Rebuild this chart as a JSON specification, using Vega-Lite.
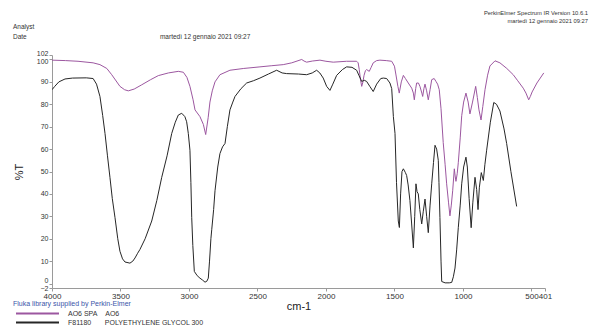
{
  "$schema": "https://vega.github.io/schema/vega-lite/v6.json",
  "width": 493,
  "height": 233,
  "autosize": "none",
  "padding": {"left": 52, "top": 55, "right": 45, "bottom": 39},
  "background": "white",
  "resolve": {"axis": {"x": "independent", "y": "independent"}},
  "config": {
    "view": {"stroke": null},
    "font": "Liberation Sans",
    "axis": {"grid": false, "labelOverlap": false, "domainColor": "#9a9a9a", "tickColor": "#9a9a9a", "labelColor": "#333", "labelFont": "Liberation Sans", "titleFont": "Liberation Sans", "titleFontWeight": "normal", "titleColor": "#222"}
  },
  "datasets": {
    "spectra": [
      {"spectrum": "AO6 SPA\u00a0\u00a0\u00a0\u00a0AO6", "wn": 4000, "T": 99.7},
      {"spectrum": "AO6 SPA\u00a0\u00a0\u00a0\u00a0AO6", "wn": 3900, "T": 99.5},
      {"spectrum": "AO6 SPA\u00a0\u00a0\u00a0\u00a0AO6", "wn": 3810, "T": 99.2},
      {"spectrum": "AO6 SPA\u00a0\u00a0\u00a0\u00a0AO6", "wn": 3700, "T": 98.5},
      {"spectrum": "AO6 SPA\u00a0\u00a0\u00a0\u00a0AO6", "wn": 3650, "T": 97.7},
      {"spectrum": "AO6 SPA\u00a0\u00a0\u00a0\u00a0AO6", "wn": 3600, "T": 96},
      {"spectrum": "AO6 SPA\u00a0\u00a0\u00a0\u00a0AO6", "wn": 3564, "T": 93.2},
      {"spectrum": "AO6 SPA\u00a0\u00a0\u00a0\u00a0AO6", "wn": 3504, "T": 88},
      {"spectrum": "AO6 SPA\u00a0\u00a0\u00a0\u00a0AO6", "wn": 3470, "T": 86.5},
      {"spectrum": "AO6 SPA\u00a0\u00a0\u00a0\u00a0AO6", "wn": 3443, "T": 86},
      {"spectrum": "AO6 SPA\u00a0\u00a0\u00a0\u00a0AO6", "wn": 3400, "T": 86.8},
      {"spectrum": "AO6 SPA\u00a0\u00a0\u00a0\u00a0AO6", "wn": 3345, "T": 88.7},
      {"spectrum": "AO6 SPA\u00a0\u00a0\u00a0\u00a0AO6", "wn": 3280, "T": 91},
      {"spectrum": "AO6 SPA\u00a0\u00a0\u00a0\u00a0AO6", "wn": 3224, "T": 92.8},
      {"spectrum": "AO6 SPA\u00a0\u00a0\u00a0\u00a0AO6", "wn": 3150, "T": 94},
      {"spectrum": "AO6 SPA\u00a0\u00a0\u00a0\u00a0AO6", "wn": 3078, "T": 94.7},
      {"spectrum": "AO6 SPA\u00a0\u00a0\u00a0\u00a0AO6", "wn": 3041, "T": 94.3},
      {"spectrum": "AO6 SPA\u00a0\u00a0\u00a0\u00a0AO6", "wn": 3015, "T": 92},
      {"spectrum": "AO6 SPA\u00a0\u00a0\u00a0\u00a0AO6", "wn": 2993, "T": 88},
      {"spectrum": "AO6 SPA\u00a0\u00a0\u00a0\u00a0AO6", "wn": 2970, "T": 82},
      {"spectrum": "AO6 SPA\u00a0\u00a0\u00a0\u00a0AO6", "wn": 2956, "T": 77.5},
      {"spectrum": "AO6 SPA\u00a0\u00a0\u00a0\u00a0AO6", "wn": 2920, "T": 74.5},
      {"spectrum": "AO6 SPA\u00a0\u00a0\u00a0\u00a0AO6", "wn": 2895, "T": 71},
      {"spectrum": "AO6 SPA\u00a0\u00a0\u00a0\u00a0AO6", "wn": 2878, "T": 66.5},
      {"spectrum": "AO6 SPA\u00a0\u00a0\u00a0\u00a0AO6", "wn": 2860, "T": 74},
      {"spectrum": "AO6 SPA\u00a0\u00a0\u00a0\u00a0AO6", "wn": 2847, "T": 81},
      {"spectrum": "AO6 SPA\u00a0\u00a0\u00a0\u00a0AO6", "wn": 2830, "T": 86},
      {"spectrum": "AO6 SPA\u00a0\u00a0\u00a0\u00a0AO6", "wn": 2810, "T": 90},
      {"spectrum": "AO6 SPA\u00a0\u00a0\u00a0\u00a0AO6", "wn": 2774, "T": 93.2},
      {"spectrum": "AO6 SPA\u00a0\u00a0\u00a0\u00a0AO6", "wn": 2701, "T": 95.2},
      {"spectrum": "AO6 SPA\u00a0\u00a0\u00a0\u00a0AO6", "wn": 2600, "T": 96},
      {"spectrum": "AO6 SPA\u00a0\u00a0\u00a0\u00a0AO6", "wn": 2482, "T": 96.7},
      {"spectrum": "AO6 SPA\u00a0\u00a0\u00a0\u00a0AO6", "wn": 2400, "T": 97.2},
      {"spectrum": "AO6 SPA\u00a0\u00a0\u00a0\u00a0AO6", "wn": 2312, "T": 97.7},
      {"spectrum": "AO6 SPA\u00a0\u00a0\u00a0\u00a0AO6", "wn": 2250, "T": 98.5},
      {"spectrum": "AO6 SPA\u00a0\u00a0\u00a0\u00a0AO6", "wn": 2177, "T": 100},
      {"spectrum": "AO6 SPA\u00a0\u00a0\u00a0\u00a0AO6", "wn": 2160, "T": 99.3},
      {"spectrum": "AO6 SPA\u00a0\u00a0\u00a0\u00a0AO6", "wn": 2141, "T": 98.8},
      {"spectrum": "AO6 SPA\u00a0\u00a0\u00a0\u00a0AO6", "wn": 2100, "T": 99.3},
      {"spectrum": "AO6 SPA\u00a0\u00a0\u00a0\u00a0AO6", "wn": 2044, "T": 99.7},
      {"spectrum": "AO6 SPA\u00a0\u00a0\u00a0\u00a0AO6", "wn": 2000, "T": 99.2},
      {"spectrum": "AO6 SPA\u00a0\u00a0\u00a0\u00a0AO6", "wn": 1947, "T": 98.8},
      {"spectrum": "AO6 SPA\u00a0\u00a0\u00a0\u00a0AO6", "wn": 1850, "T": 99.2},
      {"spectrum": "AO6 SPA\u00a0\u00a0\u00a0\u00a0AO6", "wn": 1776, "T": 99.2},
      {"spectrum": "AO6 SPA\u00a0\u00a0\u00a0\u00a0AO6", "wn": 1765, "T": 98.5},
      {"spectrum": "AO6 SPA\u00a0\u00a0\u00a0\u00a0AO6", "wn": 1757, "T": 95.5},
      {"spectrum": "AO6 SPA\u00a0\u00a0\u00a0\u00a0AO6", "wn": 1748, "T": 91},
      {"spectrum": "AO6 SPA\u00a0\u00a0\u00a0\u00a0AO6", "wn": 1739, "T": 88},
      {"spectrum": "AO6 SPA\u00a0\u00a0\u00a0\u00a0AO6", "wn": 1730, "T": 90},
      {"spectrum": "AO6 SPA\u00a0\u00a0\u00a0\u00a0AO6", "wn": 1722, "T": 92.9},
      {"spectrum": "AO6 SPA\u00a0\u00a0\u00a0\u00a0AO6", "wn": 1712, "T": 95},
      {"spectrum": "AO6 SPA\u00a0\u00a0\u00a0\u00a0AO6", "wn": 1703, "T": 95.5},
      {"spectrum": "AO6 SPA\u00a0\u00a0\u00a0\u00a0AO6", "wn": 1684, "T": 94.7},
      {"spectrum": "AO6 SPA\u00a0\u00a0\u00a0\u00a0AO6", "wn": 1670, "T": 96.5},
      {"spectrum": "AO6 SPA\u00a0\u00a0\u00a0\u00a0AO6", "wn": 1655, "T": 98.5},
      {"spectrum": "AO6 SPA\u00a0\u00a0\u00a0\u00a0AO6", "wn": 1630, "T": 99.5},
      {"spectrum": "AO6 SPA\u00a0\u00a0\u00a0\u00a0AO6", "wn": 1606, "T": 99.7},
      {"spectrum": "AO6 SPA\u00a0\u00a0\u00a0\u00a0AO6", "wn": 1560, "T": 99.5},
      {"spectrum": "AO6 SPA\u00a0\u00a0\u00a0\u00a0AO6", "wn": 1520, "T": 99.2},
      {"spectrum": "AO6 SPA\u00a0\u00a0\u00a0\u00a0AO6", "wn": 1500, "T": 97},
      {"spectrum": "AO6 SPA\u00a0\u00a0\u00a0\u00a0AO6", "wn": 1490, "T": 93.5},
      {"spectrum": "AO6 SPA\u00a0\u00a0\u00a0\u00a0AO6", "wn": 1475, "T": 88},
      {"spectrum": "AO6 SPA\u00a0\u00a0\u00a0\u00a0AO6", "wn": 1465, "T": 85},
      {"spectrum": "AO6 SPA\u00a0\u00a0\u00a0\u00a0AO6", "wn": 1450, "T": 90},
      {"spectrum": "AO6 SPA\u00a0\u00a0\u00a0\u00a0AO6", "wn": 1435, "T": 92.9},
      {"spectrum": "AO6 SPA\u00a0\u00a0\u00a0\u00a0AO6", "wn": 1420, "T": 91.5},
      {"spectrum": "AO6 SPA\u00a0\u00a0\u00a0\u00a0AO6", "wn": 1399, "T": 89.5},
      {"spectrum": "AO6 SPA\u00a0\u00a0\u00a0\u00a0AO6", "wn": 1374, "T": 87.2},
      {"spectrum": "AO6 SPA\u00a0\u00a0\u00a0\u00a0AO6", "wn": 1362, "T": 85},
      {"spectrum": "AO6 SPA\u00a0\u00a0\u00a0\u00a0AO6", "wn": 1355, "T": 82},
      {"spectrum": "AO6 SPA\u00a0\u00a0\u00a0\u00a0AO6", "wn": 1345, "T": 87},
      {"spectrum": "AO6 SPA\u00a0\u00a0\u00a0\u00a0AO6", "wn": 1338, "T": 89.5},
      {"spectrum": "AO6 SPA\u00a0\u00a0\u00a0\u00a0AO6", "wn": 1325, "T": 89.5},
      {"spectrum": "AO6 SPA\u00a0\u00a0\u00a0\u00a0AO6", "wn": 1314, "T": 88},
      {"spectrum": "AO6 SPA\u00a0\u00a0\u00a0\u00a0AO6", "wn": 1300, "T": 85},
      {"spectrum": "AO6 SPA\u00a0\u00a0\u00a0\u00a0AO6", "wn": 1294, "T": 83.5},
      {"spectrum": "AO6 SPA\u00a0\u00a0\u00a0\u00a0AO6", "wn": 1285, "T": 87},
      {"spectrum": "AO6 SPA\u00a0\u00a0\u00a0\u00a0AO6", "wn": 1277, "T": 89},
      {"spectrum": "AO6 SPA\u00a0\u00a0\u00a0\u00a0AO6", "wn": 1265, "T": 86},
      {"spectrum": "AO6 SPA\u00a0\u00a0\u00a0\u00a0AO6", "wn": 1253, "T": 82},
      {"spectrum": "AO6 SPA\u00a0\u00a0\u00a0\u00a0AO6", "wn": 1240, "T": 86.5},
      {"spectrum": "AO6 SPA\u00a0\u00a0\u00a0\u00a0AO6", "wn": 1228, "T": 91},
      {"spectrum": "AO6 SPA\u00a0\u00a0\u00a0\u00a0AO6", "wn": 1210, "T": 91.5},
      {"spectrum": "AO6 SPA\u00a0\u00a0\u00a0\u00a0AO6", "wn": 1197, "T": 90.2},
      {"spectrum": "AO6 SPA\u00a0\u00a0\u00a0\u00a0AO6", "wn": 1185, "T": 89},
      {"spectrum": "AO6 SPA\u00a0\u00a0\u00a0\u00a0AO6", "wn": 1173, "T": 86.5},
      {"spectrum": "AO6 SPA\u00a0\u00a0\u00a0\u00a0AO6", "wn": 1160, "T": 78},
      {"spectrum": "AO6 SPA\u00a0\u00a0\u00a0\u00a0AO6", "wn": 1144, "T": 62.9},
      {"spectrum": "AO6 SPA\u00a0\u00a0\u00a0\u00a0AO6", "wn": 1130, "T": 53},
      {"spectrum": "AO6 SPA\u00a0\u00a0\u00a0\u00a0AO6", "wn": 1119, "T": 44.5},
      {"spectrum": "AO6 SPA\u00a0\u00a0\u00a0\u00a0AO6", "wn": 1105, "T": 36},
      {"spectrum": "AO6 SPA\u00a0\u00a0\u00a0\u00a0AO6", "wn": 1095, "T": 30.2},
      {"spectrum": "AO6 SPA\u00a0\u00a0\u00a0\u00a0AO6", "wn": 1085, "T": 35},
      {"spectrum": "AO6 SPA\u00a0\u00a0\u00a0\u00a0AO6", "wn": 1075, "T": 41.4},
      {"spectrum": "AO6 SPA\u00a0\u00a0\u00a0\u00a0AO6", "wn": 1063, "T": 51.2},
      {"spectrum": "AO6 SPA\u00a0\u00a0\u00a0\u00a0AO6", "wn": 1057, "T": 48},
      {"spectrum": "AO6 SPA\u00a0\u00a0\u00a0\u00a0AO6", "wn": 1051, "T": 45.6},
      {"spectrum": "AO6 SPA\u00a0\u00a0\u00a0\u00a0AO6", "wn": 1042, "T": 49},
      {"spectrum": "AO6 SPA\u00a0\u00a0\u00a0\u00a0AO6", "wn": 1034, "T": 53.9},
      {"spectrum": "AO6 SPA\u00a0\u00a0\u00a0\u00a0AO6", "wn": 1020, "T": 65},
      {"spectrum": "AO6 SPA\u00a0\u00a0\u00a0\u00a0AO6", "wn": 1009, "T": 74.9},
      {"spectrum": "AO6 SPA\u00a0\u00a0\u00a0\u00a0AO6", "wn": 995, "T": 81},
      {"spectrum": "AO6 SPA\u00a0\u00a0\u00a0\u00a0AO6", "wn": 978, "T": 85},
      {"spectrum": "AO6 SPA\u00a0\u00a0\u00a0\u00a0AO6", "wn": 962, "T": 81},
      {"spectrum": "AO6 SPA\u00a0\u00a0\u00a0\u00a0AO6", "wn": 949, "T": 75.7},
      {"spectrum": "AO6 SPA\u00a0\u00a0\u00a0\u00a0AO6", "wn": 930, "T": 81},
      {"spectrum": "AO6 SPA\u00a0\u00a0\u00a0\u00a0AO6", "wn": 907, "T": 88},
      {"spectrum": "AO6 SPA\u00a0\u00a0\u00a0\u00a0AO6", "wn": 895, "T": 83},
      {"spectrum": "AO6 SPA\u00a0\u00a0\u00a0\u00a0AO6", "wn": 883, "T": 77.5},
      {"spectrum": "AO6 SPA\u00a0\u00a0\u00a0\u00a0AO6", "wn": 868, "T": 73},
      {"spectrum": "AO6 SPA\u00a0\u00a0\u00a0\u00a0AO6", "wn": 855, "T": 79},
      {"spectrum": "AO6 SPA\u00a0\u00a0\u00a0\u00a0AO6", "wn": 839, "T": 86.5},
      {"spectrum": "AO6 SPA\u00a0\u00a0\u00a0\u00a0AO6", "wn": 820, "T": 93},
      {"spectrum": "AO6 SPA\u00a0\u00a0\u00a0\u00a0AO6", "wn": 803, "T": 97.1},
      {"spectrum": "AO6 SPA\u00a0\u00a0\u00a0\u00a0AO6", "wn": 766, "T": 99.4},
      {"spectrum": "AO6 SPA\u00a0\u00a0\u00a0\u00a0AO6", "wn": 730, "T": 98.5},
      {"spectrum": "AO6 SPA\u00a0\u00a0\u00a0\u00a0AO6", "wn": 680, "T": 96},
      {"spectrum": "AO6 SPA\u00a0\u00a0\u00a0\u00a0AO6", "wn": 633, "T": 93.2},
      {"spectrum": "AO6 SPA\u00a0\u00a0\u00a0\u00a0AO6", "wn": 600, "T": 90.5},
      {"spectrum": "AO6 SPA\u00a0\u00a0\u00a0\u00a0AO6", "wn": 560, "T": 87.2},
      {"spectrum": "AO6 SPA\u00a0\u00a0\u00a0\u00a0AO6", "wn": 540, "T": 85},
      {"spectrum": "AO6 SPA\u00a0\u00a0\u00a0\u00a0AO6", "wn": 520, "T": 82},
      {"spectrum": "AO6 SPA\u00a0\u00a0\u00a0\u00a0AO6", "wn": 508, "T": 83.5},
      {"spectrum": "AO6 SPA\u00a0\u00a0\u00a0\u00a0AO6", "wn": 495, "T": 85.5},
      {"spectrum": "AO6 SPA\u00a0\u00a0\u00a0\u00a0AO6", "wn": 460, "T": 89.5},
      {"spectrum": "AO6 SPA\u00a0\u00a0\u00a0\u00a0AO6", "wn": 410, "T": 94},
      {"spectrum": "F81180\u00a0\u00a0\u00a0\u00a0\u00a0\u00a0\u00a0POLYETHYLENE GLYCOL 300", "wn": 4000, "T": 86.5},
      {"spectrum": "F81180\u00a0\u00a0\u00a0\u00a0\u00a0\u00a0\u00a0POLYETHYLENE GLYCOL 300", "wn": 3980, "T": 88},
      {"spectrum": "F81180\u00a0\u00a0\u00a0\u00a0\u00a0\u00a0\u00a0POLYETHYLENE GLYCOL 300", "wn": 3950, "T": 90},
      {"spectrum": "F81180\u00a0\u00a0\u00a0\u00a0\u00a0\u00a0\u00a0POLYETHYLENE GLYCOL 300", "wn": 3905, "T": 91.3},
      {"spectrum": "F81180\u00a0\u00a0\u00a0\u00a0\u00a0\u00a0\u00a0POLYETHYLENE GLYCOL 300", "wn": 3850, "T": 91.7},
      {"spectrum": "F81180\u00a0\u00a0\u00a0\u00a0\u00a0\u00a0\u00a0POLYETHYLENE GLYCOL 300", "wn": 3750, "T": 91.8},
      {"spectrum": "F81180\u00a0\u00a0\u00a0\u00a0\u00a0\u00a0\u00a0POLYETHYLENE GLYCOL 300", "wn": 3700, "T": 91.5},
      {"spectrum": "F81180\u00a0\u00a0\u00a0\u00a0\u00a0\u00a0\u00a0POLYETHYLENE GLYCOL 300", "wn": 3675, "T": 89},
      {"spectrum": "F81180\u00a0\u00a0\u00a0\u00a0\u00a0\u00a0\u00a0POLYETHYLENE GLYCOL 300", "wn": 3650, "T": 83.5},
      {"spectrum": "F81180\u00a0\u00a0\u00a0\u00a0\u00a0\u00a0\u00a0POLYETHYLENE GLYCOL 300", "wn": 3630, "T": 75},
      {"spectrum": "F81180\u00a0\u00a0\u00a0\u00a0\u00a0\u00a0\u00a0POLYETHYLENE GLYCOL 300", "wn": 3613, "T": 67},
      {"spectrum": "F81180\u00a0\u00a0\u00a0\u00a0\u00a0\u00a0\u00a0POLYETHYLENE GLYCOL 300", "wn": 3595, "T": 57},
      {"spectrum": "F81180\u00a0\u00a0\u00a0\u00a0\u00a0\u00a0\u00a0POLYETHYLENE GLYCOL 300", "wn": 3577, "T": 47.4},
      {"spectrum": "F81180\u00a0\u00a0\u00a0\u00a0\u00a0\u00a0\u00a0POLYETHYLENE GLYCOL 300", "wn": 3560, "T": 38},
      {"spectrum": "F81180\u00a0\u00a0\u00a0\u00a0\u00a0\u00a0\u00a0POLYETHYLENE GLYCOL 300", "wn": 3540, "T": 29.4},
      {"spectrum": "F81180\u00a0\u00a0\u00a0\u00a0\u00a0\u00a0\u00a0POLYETHYLENE GLYCOL 300", "wn": 3520, "T": 20},
      {"spectrum": "F81180\u00a0\u00a0\u00a0\u00a0\u00a0\u00a0\u00a0POLYETHYLENE GLYCOL 300", "wn": 3504, "T": 14.4},
      {"spectrum": "F81180\u00a0\u00a0\u00a0\u00a0\u00a0\u00a0\u00a0POLYETHYLENE GLYCOL 300", "wn": 3485, "T": 11},
      {"spectrum": "F81180\u00a0\u00a0\u00a0\u00a0\u00a0\u00a0\u00a0POLYETHYLENE GLYCOL 300", "wn": 3467, "T": 9.6},
      {"spectrum": "F81180\u00a0\u00a0\u00a0\u00a0\u00a0\u00a0\u00a0POLYETHYLENE GLYCOL 300", "wn": 3431, "T": 9.1},
      {"spectrum": "F81180\u00a0\u00a0\u00a0\u00a0\u00a0\u00a0\u00a0POLYETHYLENE GLYCOL 300", "wn": 3410, "T": 10},
      {"spectrum": "F81180\u00a0\u00a0\u00a0\u00a0\u00a0\u00a0\u00a0POLYETHYLENE GLYCOL 300", "wn": 3394, "T": 11.4},
      {"spectrum": "F81180\u00a0\u00a0\u00a0\u00a0\u00a0\u00a0\u00a0POLYETHYLENE GLYCOL 300", "wn": 3375, "T": 13.5},
      {"spectrum": "F81180\u00a0\u00a0\u00a0\u00a0\u00a0\u00a0\u00a0POLYETHYLENE GLYCOL 300", "wn": 3358, "T": 15.2},
      {"spectrum": "F81180\u00a0\u00a0\u00a0\u00a0\u00a0\u00a0\u00a0POLYETHYLENE GLYCOL 300", "wn": 3320, "T": 20},
      {"spectrum": "F81180\u00a0\u00a0\u00a0\u00a0\u00a0\u00a0\u00a0POLYETHYLENE GLYCOL 300", "wn": 3272, "T": 27.9},
      {"spectrum": "F81180\u00a0\u00a0\u00a0\u00a0\u00a0\u00a0\u00a0POLYETHYLENE GLYCOL 300", "wn": 3235, "T": 37},
      {"spectrum": "F81180\u00a0\u00a0\u00a0\u00a0\u00a0\u00a0\u00a0POLYETHYLENE GLYCOL 300", "wn": 3199, "T": 47.4},
      {"spectrum": "F81180\u00a0\u00a0\u00a0\u00a0\u00a0\u00a0\u00a0POLYETHYLENE GLYCOL 300", "wn": 3160, "T": 57},
      {"spectrum": "F81180\u00a0\u00a0\u00a0\u00a0\u00a0\u00a0\u00a0POLYETHYLENE GLYCOL 300", "wn": 3126, "T": 67},
      {"spectrum": "F81180\u00a0\u00a0\u00a0\u00a0\u00a0\u00a0\u00a0POLYETHYLENE GLYCOL 300", "wn": 3100, "T": 72},
      {"spectrum": "F81180\u00a0\u00a0\u00a0\u00a0\u00a0\u00a0\u00a0POLYETHYLENE GLYCOL 300", "wn": 3078, "T": 75.2},
      {"spectrum": "F81180\u00a0\u00a0\u00a0\u00a0\u00a0\u00a0\u00a0POLYETHYLENE GLYCOL 300", "wn": 3053, "T": 76},
      {"spectrum": "F81180\u00a0\u00a0\u00a0\u00a0\u00a0\u00a0\u00a0POLYETHYLENE GLYCOL 300", "wn": 3030, "T": 74.5},
      {"spectrum": "F81180\u00a0\u00a0\u00a0\u00a0\u00a0\u00a0\u00a0POLYETHYLENE GLYCOL 300", "wn": 3017, "T": 72.2},
      {"spectrum": "F81180\u00a0\u00a0\u00a0\u00a0\u00a0\u00a0\u00a0POLYETHYLENE GLYCOL 300", "wn": 3005, "T": 67},
      {"spectrum": "F81180\u00a0\u00a0\u00a0\u00a0\u00a0\u00a0\u00a0POLYETHYLENE GLYCOL 300", "wn": 2993, "T": 59.5},
      {"spectrum": "F81180\u00a0\u00a0\u00a0\u00a0\u00a0\u00a0\u00a0POLYETHYLENE GLYCOL 300", "wn": 2986, "T": 45},
      {"spectrum": "F81180\u00a0\u00a0\u00a0\u00a0\u00a0\u00a0\u00a0POLYETHYLENE GLYCOL 300", "wn": 2980, "T": 29.4},
      {"spectrum": "F81180\u00a0\u00a0\u00a0\u00a0\u00a0\u00a0\u00a0POLYETHYLENE GLYCOL 300", "wn": 2972, "T": 17},
      {"spectrum": "F81180\u00a0\u00a0\u00a0\u00a0\u00a0\u00a0\u00a0POLYETHYLENE GLYCOL 300", "wn": 2961, "T": 5.4},
      {"spectrum": "F81180\u00a0\u00a0\u00a0\u00a0\u00a0\u00a0\u00a0POLYETHYLENE GLYCOL 300", "wn": 2940, "T": 3.5},
      {"spectrum": "F81180\u00a0\u00a0\u00a0\u00a0\u00a0\u00a0\u00a0POLYETHYLENE GLYCOL 300", "wn": 2920, "T": 2.4},
      {"spectrum": "F81180\u00a0\u00a0\u00a0\u00a0\u00a0\u00a0\u00a0POLYETHYLENE GLYCOL 300", "wn": 2900, "T": 1.5},
      {"spectrum": "F81180\u00a0\u00a0\u00a0\u00a0\u00a0\u00a0\u00a0POLYETHYLENE GLYCOL 300", "wn": 2883, "T": 0.6},
      {"spectrum": "F81180\u00a0\u00a0\u00a0\u00a0\u00a0\u00a0\u00a0POLYETHYLENE GLYCOL 300", "wn": 2870, "T": 1},
      {"spectrum": "F81180\u00a0\u00a0\u00a0\u00a0\u00a0\u00a0\u00a0POLYETHYLENE GLYCOL 300", "wn": 2859, "T": 2.4},
      {"spectrum": "F81180\u00a0\u00a0\u00a0\u00a0\u00a0\u00a0\u00a0POLYETHYLENE GLYCOL 300", "wn": 2850, "T": 10},
      {"spectrum": "F81180\u00a0\u00a0\u00a0\u00a0\u00a0\u00a0\u00a0POLYETHYLENE GLYCOL 300", "wn": 2840, "T": 20},
      {"spectrum": "F81180\u00a0\u00a0\u00a0\u00a0\u00a0\u00a0\u00a0POLYETHYLENE GLYCOL 300", "wn": 2834, "T": 24},
      {"spectrum": "F81180\u00a0\u00a0\u00a0\u00a0\u00a0\u00a0\u00a0POLYETHYLENE GLYCOL 300", "wn": 2820, "T": 33},
      {"spectrum": "F81180\u00a0\u00a0\u00a0\u00a0\u00a0\u00a0\u00a0POLYETHYLENE GLYCOL 300", "wn": 2810, "T": 41.4},
      {"spectrum": "F81180\u00a0\u00a0\u00a0\u00a0\u00a0\u00a0\u00a0POLYETHYLENE GLYCOL 300", "wn": 2790, "T": 52},
      {"spectrum": "F81180\u00a0\u00a0\u00a0\u00a0\u00a0\u00a0\u00a0POLYETHYLENE GLYCOL 300", "wn": 2774, "T": 58},
      {"spectrum": "F81180\u00a0\u00a0\u00a0\u00a0\u00a0\u00a0\u00a0POLYETHYLENE GLYCOL 300", "wn": 2755, "T": 61},
      {"spectrum": "F81180\u00a0\u00a0\u00a0\u00a0\u00a0\u00a0\u00a0POLYETHYLENE GLYCOL 300", "wn": 2737, "T": 62.5},
      {"spectrum": "F81180\u00a0\u00a0\u00a0\u00a0\u00a0\u00a0\u00a0POLYETHYLENE GLYCOL 300", "wn": 2720, "T": 70},
      {"spectrum": "F81180\u00a0\u00a0\u00a0\u00a0\u00a0\u00a0\u00a0POLYETHYLENE GLYCOL 300", "wn": 2701, "T": 77.5},
      {"spectrum": "F81180\u00a0\u00a0\u00a0\u00a0\u00a0\u00a0\u00a0POLYETHYLENE GLYCOL 300", "wn": 2680, "T": 81},
      {"spectrum": "F81180\u00a0\u00a0\u00a0\u00a0\u00a0\u00a0\u00a0POLYETHYLENE GLYCOL 300", "wn": 2664, "T": 83.5},
      {"spectrum": "F81180\u00a0\u00a0\u00a0\u00a0\u00a0\u00a0\u00a0POLYETHYLENE GLYCOL 300", "wn": 2620, "T": 87},
      {"spectrum": "F81180\u00a0\u00a0\u00a0\u00a0\u00a0\u00a0\u00a0POLYETHYLENE GLYCOL 300", "wn": 2579, "T": 89.5},
      {"spectrum": "F81180\u00a0\u00a0\u00a0\u00a0\u00a0\u00a0\u00a0POLYETHYLENE GLYCOL 300", "wn": 2530, "T": 90.5},
      {"spectrum": "F81180\u00a0\u00a0\u00a0\u00a0\u00a0\u00a0\u00a0POLYETHYLENE GLYCOL 300", "wn": 2482, "T": 91.7},
      {"spectrum": "F81180\u00a0\u00a0\u00a0\u00a0\u00a0\u00a0\u00a0POLYETHYLENE GLYCOL 300", "wn": 2420, "T": 93.5},
      {"spectrum": "F81180\u00a0\u00a0\u00a0\u00a0\u00a0\u00a0\u00a0POLYETHYLENE GLYCOL 300", "wn": 2360, "T": 95.2},
      {"spectrum": "F81180\u00a0\u00a0\u00a0\u00a0\u00a0\u00a0\u00a0POLYETHYLENE GLYCOL 300", "wn": 2320, "T": 94},
      {"spectrum": "F81180\u00a0\u00a0\u00a0\u00a0\u00a0\u00a0\u00a0POLYETHYLENE GLYCOL 300", "wn": 2287, "T": 93.7},
      {"spectrum": "F81180\u00a0\u00a0\u00a0\u00a0\u00a0\u00a0\u00a0POLYETHYLENE GLYCOL 300", "wn": 2200, "T": 93.5},
      {"spectrum": "F81180\u00a0\u00a0\u00a0\u00a0\u00a0\u00a0\u00a0POLYETHYLENE GLYCOL 300", "wn": 2141, "T": 93.2},
      {"spectrum": "F81180\u00a0\u00a0\u00a0\u00a0\u00a0\u00a0\u00a0POLYETHYLENE GLYCOL 300", "wn": 2100, "T": 94},
      {"spectrum": "F81180\u00a0\u00a0\u00a0\u00a0\u00a0\u00a0\u00a0POLYETHYLENE GLYCOL 300", "wn": 2068, "T": 95.2},
      {"spectrum": "F81180\u00a0\u00a0\u00a0\u00a0\u00a0\u00a0\u00a0POLYETHYLENE GLYCOL 300", "wn": 2045, "T": 94},
      {"spectrum": "F81180\u00a0\u00a0\u00a0\u00a0\u00a0\u00a0\u00a0POLYETHYLENE GLYCOL 300", "wn": 2020, "T": 91.7},
      {"spectrum": "F81180\u00a0\u00a0\u00a0\u00a0\u00a0\u00a0\u00a0POLYETHYLENE GLYCOL 300", "wn": 1995, "T": 88},
      {"spectrum": "F81180\u00a0\u00a0\u00a0\u00a0\u00a0\u00a0\u00a0POLYETHYLENE GLYCOL 300", "wn": 1971, "T": 86.2},
      {"spectrum": "F81180\u00a0\u00a0\u00a0\u00a0\u00a0\u00a0\u00a0POLYETHYLENE GLYCOL 300", "wn": 1950, "T": 89},
      {"spectrum": "F81180\u00a0\u00a0\u00a0\u00a0\u00a0\u00a0\u00a0POLYETHYLENE GLYCOL 300", "wn": 1922, "T": 92.9},
      {"spectrum": "F81180\u00a0\u00a0\u00a0\u00a0\u00a0\u00a0\u00a0POLYETHYLENE GLYCOL 300", "wn": 1880, "T": 95.5},
      {"spectrum": "F81180\u00a0\u00a0\u00a0\u00a0\u00a0\u00a0\u00a0POLYETHYLENE GLYCOL 300", "wn": 1849, "T": 96.7},
      {"spectrum": "F81180\u00a0\u00a0\u00a0\u00a0\u00a0\u00a0\u00a0POLYETHYLENE GLYCOL 300", "wn": 1810, "T": 96.5},
      {"spectrum": "F81180\u00a0\u00a0\u00a0\u00a0\u00a0\u00a0\u00a0POLYETHYLENE GLYCOL 300", "wn": 1776, "T": 95.2},
      {"spectrum": "F81180\u00a0\u00a0\u00a0\u00a0\u00a0\u00a0\u00a0POLYETHYLENE GLYCOL 300", "wn": 1760, "T": 93},
      {"spectrum": "F81180\u00a0\u00a0\u00a0\u00a0\u00a0\u00a0\u00a0POLYETHYLENE GLYCOL 300", "wn": 1739, "T": 90.2},
      {"spectrum": "F81180\u00a0\u00a0\u00a0\u00a0\u00a0\u00a0\u00a0POLYETHYLENE GLYCOL 300", "wn": 1720, "T": 90.7},
      {"spectrum": "F81180\u00a0\u00a0\u00a0\u00a0\u00a0\u00a0\u00a0POLYETHYLENE GLYCOL 300", "wn": 1703, "T": 90.2},
      {"spectrum": "F81180\u00a0\u00a0\u00a0\u00a0\u00a0\u00a0\u00a0POLYETHYLENE GLYCOL 300", "wn": 1680, "T": 88},
      {"spectrum": "F81180\u00a0\u00a0\u00a0\u00a0\u00a0\u00a0\u00a0POLYETHYLENE GLYCOL 300", "wn": 1655, "T": 85.7},
      {"spectrum": "F81180\u00a0\u00a0\u00a0\u00a0\u00a0\u00a0\u00a0POLYETHYLENE GLYCOL 300", "wn": 1630, "T": 89},
      {"spectrum": "F81180\u00a0\u00a0\u00a0\u00a0\u00a0\u00a0\u00a0POLYETHYLENE GLYCOL 300", "wn": 1600, "T": 91.5},
      {"spectrum": "F81180\u00a0\u00a0\u00a0\u00a0\u00a0\u00a0\u00a0POLYETHYLENE GLYCOL 300", "wn": 1581, "T": 91.7},
      {"spectrum": "F81180\u00a0\u00a0\u00a0\u00a0\u00a0\u00a0\u00a0POLYETHYLENE GLYCOL 300", "wn": 1557, "T": 91.5},
      {"spectrum": "F81180\u00a0\u00a0\u00a0\u00a0\u00a0\u00a0\u00a0POLYETHYLENE GLYCOL 300", "wn": 1533, "T": 89.5},
      {"spectrum": "F81180\u00a0\u00a0\u00a0\u00a0\u00a0\u00a0\u00a0POLYETHYLENE GLYCOL 300", "wn": 1520, "T": 87},
      {"spectrum": "F81180\u00a0\u00a0\u00a0\u00a0\u00a0\u00a0\u00a0POLYETHYLENE GLYCOL 300", "wn": 1508, "T": 74.5},
      {"spectrum": "F81180\u00a0\u00a0\u00a0\u00a0\u00a0\u00a0\u00a0POLYETHYLENE GLYCOL 300", "wn": 1496, "T": 67},
      {"spectrum": "F81180\u00a0\u00a0\u00a0\u00a0\u00a0\u00a0\u00a0POLYETHYLENE GLYCOL 300", "wn": 1485, "T": 45},
      {"spectrum": "F81180\u00a0\u00a0\u00a0\u00a0\u00a0\u00a0\u00a0POLYETHYLENE GLYCOL 300", "wn": 1472, "T": 27.9},
      {"spectrum": "F81180\u00a0\u00a0\u00a0\u00a0\u00a0\u00a0\u00a0POLYETHYLENE GLYCOL 300", "wn": 1464, "T": 25},
      {"spectrum": "F81180\u00a0\u00a0\u00a0\u00a0\u00a0\u00a0\u00a0POLYETHYLENE GLYCOL 300", "wn": 1455, "T": 40},
      {"spectrum": "F81180\u00a0\u00a0\u00a0\u00a0\u00a0\u00a0\u00a0POLYETHYLENE GLYCOL 300", "wn": 1445, "T": 50},
      {"spectrum": "F81180\u00a0\u00a0\u00a0\u00a0\u00a0\u00a0\u00a0POLYETHYLENE GLYCOL 300", "wn": 1435, "T": 51.2},
      {"spectrum": "F81180\u00a0\u00a0\u00a0\u00a0\u00a0\u00a0\u00a0POLYETHYLENE GLYCOL 300", "wn": 1420, "T": 49.5},
      {"spectrum": "F81180\u00a0\u00a0\u00a0\u00a0\u00a0\u00a0\u00a0POLYETHYLENE GLYCOL 300", "wn": 1411, "T": 48.2},
      {"spectrum": "F81180\u00a0\u00a0\u00a0\u00a0\u00a0\u00a0\u00a0POLYETHYLENE GLYCOL 300", "wn": 1400, "T": 44},
      {"spectrum": "F81180\u00a0\u00a0\u00a0\u00a0\u00a0\u00a0\u00a0POLYETHYLENE GLYCOL 300", "wn": 1387, "T": 37},
      {"spectrum": "F81180\u00a0\u00a0\u00a0\u00a0\u00a0\u00a0\u00a0POLYETHYLENE GLYCOL 300", "wn": 1375, "T": 27},
      {"spectrum": "F81180\u00a0\u00a0\u00a0\u00a0\u00a0\u00a0\u00a0POLYETHYLENE GLYCOL 300", "wn": 1362, "T": 15.9},
      {"spectrum": "F81180\u00a0\u00a0\u00a0\u00a0\u00a0\u00a0\u00a0POLYETHYLENE GLYCOL 300", "wn": 1352, "T": 30},
      {"spectrum": "F81180\u00a0\u00a0\u00a0\u00a0\u00a0\u00a0\u00a0POLYETHYLENE GLYCOL 300", "wn": 1343, "T": 44.5},
      {"spectrum": "F81180\u00a0\u00a0\u00a0\u00a0\u00a0\u00a0\u00a0POLYETHYLENE GLYCOL 300", "wn": 1335, "T": 41},
      {"spectrum": "F81180\u00a0\u00a0\u00a0\u00a0\u00a0\u00a0\u00a0POLYETHYLENE GLYCOL 300", "wn": 1326, "T": 40},
      {"spectrum": "F81180\u00a0\u00a0\u00a0\u00a0\u00a0\u00a0\u00a0POLYETHYLENE GLYCOL 300", "wn": 1315, "T": 33},
      {"spectrum": "F81180\u00a0\u00a0\u00a0\u00a0\u00a0\u00a0\u00a0POLYETHYLENE GLYCOL 300", "wn": 1301, "T": 26.6},
      {"spectrum": "F81180\u00a0\u00a0\u00a0\u00a0\u00a0\u00a0\u00a0POLYETHYLENE GLYCOL 300", "wn": 1290, "T": 32},
      {"spectrum": "F81180\u00a0\u00a0\u00a0\u00a0\u00a0\u00a0\u00a0POLYETHYLENE GLYCOL 300", "wn": 1277, "T": 37.7},
      {"spectrum": "F81180\u00a0\u00a0\u00a0\u00a0\u00a0\u00a0\u00a0POLYETHYLENE GLYCOL 300", "wn": 1265, "T": 30},
      {"spectrum": "F81180\u00a0\u00a0\u00a0\u00a0\u00a0\u00a0\u00a0POLYETHYLENE GLYCOL 300", "wn": 1253, "T": 22.7},
      {"spectrum": "F81180\u00a0\u00a0\u00a0\u00a0\u00a0\u00a0\u00a0POLYETHYLENE GLYCOL 300", "wn": 1240, "T": 35},
      {"spectrum": "F81180\u00a0\u00a0\u00a0\u00a0\u00a0\u00a0\u00a0POLYETHYLENE GLYCOL 300", "wn": 1228, "T": 44.5},
      {"spectrum": "F81180\u00a0\u00a0\u00a0\u00a0\u00a0\u00a0\u00a0POLYETHYLENE GLYCOL 300", "wn": 1215, "T": 54},
      {"spectrum": "F81180\u00a0\u00a0\u00a0\u00a0\u00a0\u00a0\u00a0POLYETHYLENE GLYCOL 300", "wn": 1204, "T": 61.7},
      {"spectrum": "F81180\u00a0\u00a0\u00a0\u00a0\u00a0\u00a0\u00a0POLYETHYLENE GLYCOL 300", "wn": 1192, "T": 60},
      {"spectrum": "F81180\u00a0\u00a0\u00a0\u00a0\u00a0\u00a0\u00a0POLYETHYLENE GLYCOL 300", "wn": 1180, "T": 55},
      {"spectrum": "F81180\u00a0\u00a0\u00a0\u00a0\u00a0\u00a0\u00a0POLYETHYLENE GLYCOL 300", "wn": 1175, "T": 45},
      {"spectrum": "F81180\u00a0\u00a0\u00a0\u00a0\u00a0\u00a0\u00a0POLYETHYLENE GLYCOL 300", "wn": 1168, "T": 29.4},
      {"spectrum": "F81180\u00a0\u00a0\u00a0\u00a0\u00a0\u00a0\u00a0POLYETHYLENE GLYCOL 300", "wn": 1160, "T": 10},
      {"spectrum": "F81180\u00a0\u00a0\u00a0\u00a0\u00a0\u00a0\u00a0POLYETHYLENE GLYCOL 300", "wn": 1155, "T": 0.9},
      {"spectrum": "F81180\u00a0\u00a0\u00a0\u00a0\u00a0\u00a0\u00a0POLYETHYLENE GLYCOL 300", "wn": 1130, "T": 0.3},
      {"spectrum": "F81180\u00a0\u00a0\u00a0\u00a0\u00a0\u00a0\u00a0POLYETHYLENE GLYCOL 300", "wn": 1100, "T": 0.3},
      {"spectrum": "F81180\u00a0\u00a0\u00a0\u00a0\u00a0\u00a0\u00a0POLYETHYLENE GLYCOL 300", "wn": 1082, "T": 0.5},
      {"spectrum": "F81180\u00a0\u00a0\u00a0\u00a0\u00a0\u00a0\u00a0POLYETHYLENE GLYCOL 300", "wn": 1070, "T": 3},
      {"spectrum": "F81180\u00a0\u00a0\u00a0\u00a0\u00a0\u00a0\u00a0POLYETHYLENE GLYCOL 300", "wn": 1058, "T": 6.9},
      {"spectrum": "F81180\u00a0\u00a0\u00a0\u00a0\u00a0\u00a0\u00a0POLYETHYLENE GLYCOL 300", "wn": 1046, "T": 15},
      {"spectrum": "F81180\u00a0\u00a0\u00a0\u00a0\u00a0\u00a0\u00a0POLYETHYLENE GLYCOL 300", "wn": 1034, "T": 24.9},
      {"spectrum": "F81180\u00a0\u00a0\u00a0\u00a0\u00a0\u00a0\u00a0POLYETHYLENE GLYCOL 300", "wn": 1020, "T": 35},
      {"spectrum": "F81180\u00a0\u00a0\u00a0\u00a0\u00a0\u00a0\u00a0POLYETHYLENE GLYCOL 300", "wn": 1009, "T": 44.5},
      {"spectrum": "F81180\u00a0\u00a0\u00a0\u00a0\u00a0\u00a0\u00a0POLYETHYLENE GLYCOL 300", "wn": 995, "T": 52},
      {"spectrum": "F81180\u00a0\u00a0\u00a0\u00a0\u00a0\u00a0\u00a0POLYETHYLENE GLYCOL 300", "wn": 978, "T": 56.4},
      {"spectrum": "F81180\u00a0\u00a0\u00a0\u00a0\u00a0\u00a0\u00a0POLYETHYLENE GLYCOL 300", "wn": 968, "T": 52},
      {"spectrum": "F81180\u00a0\u00a0\u00a0\u00a0\u00a0\u00a0\u00a0POLYETHYLENE GLYCOL 300", "wn": 955, "T": 38},
      {"spectrum": "F81180\u00a0\u00a0\u00a0\u00a0\u00a0\u00a0\u00a0POLYETHYLENE GLYCOL 300", "wn": 940, "T": 24.9},
      {"spectrum": "F81180\u00a0\u00a0\u00a0\u00a0\u00a0\u00a0\u00a0POLYETHYLENE GLYCOL 300", "wn": 928, "T": 36},
      {"spectrum": "F81180\u00a0\u00a0\u00a0\u00a0\u00a0\u00a0\u00a0POLYETHYLENE GLYCOL 300", "wn": 912, "T": 47.4},
      {"spectrum": "F81180\u00a0\u00a0\u00a0\u00a0\u00a0\u00a0\u00a0POLYETHYLENE GLYCOL 300", "wn": 900, "T": 42},
      {"spectrum": "F81180\u00a0\u00a0\u00a0\u00a0\u00a0\u00a0\u00a0POLYETHYLENE GLYCOL 300", "wn": 890, "T": 33},
      {"spectrum": "F81180\u00a0\u00a0\u00a0\u00a0\u00a0\u00a0\u00a0POLYETHYLENE GLYCOL 300", "wn": 880, "T": 43},
      {"spectrum": "F81180\u00a0\u00a0\u00a0\u00a0\u00a0\u00a0\u00a0POLYETHYLENE GLYCOL 300", "wn": 866, "T": 49.5},
      {"spectrum": "F81180\u00a0\u00a0\u00a0\u00a0\u00a0\u00a0\u00a0POLYETHYLENE GLYCOL 300", "wn": 851, "T": 46},
      {"spectrum": "F81180\u00a0\u00a0\u00a0\u00a0\u00a0\u00a0\u00a0POLYETHYLENE GLYCOL 300", "wn": 840, "T": 53},
      {"spectrum": "F81180\u00a0\u00a0\u00a0\u00a0\u00a0\u00a0\u00a0POLYETHYLENE GLYCOL 300", "wn": 827, "T": 59.5},
      {"spectrum": "F81180\u00a0\u00a0\u00a0\u00a0\u00a0\u00a0\u00a0POLYETHYLENE GLYCOL 300", "wn": 800, "T": 72},
      {"spectrum": "F81180\u00a0\u00a0\u00a0\u00a0\u00a0\u00a0\u00a0POLYETHYLENE GLYCOL 300", "wn": 775, "T": 80.8},
      {"spectrum": "F81180\u00a0\u00a0\u00a0\u00a0\u00a0\u00a0\u00a0POLYETHYLENE GLYCOL 300", "wn": 755, "T": 80},
      {"spectrum": "F81180\u00a0\u00a0\u00a0\u00a0\u00a0\u00a0\u00a0POLYETHYLENE GLYCOL 300", "wn": 730, "T": 77},
      {"spectrum": "F81180\u00a0\u00a0\u00a0\u00a0\u00a0\u00a0\u00a0POLYETHYLENE GLYCOL 300", "wn": 700, "T": 69},
      {"spectrum": "F81180\u00a0\u00a0\u00a0\u00a0\u00a0\u00a0\u00a0POLYETHYLENE GLYCOL 300", "wn": 681, "T": 62.5},
      {"spectrum": "F81180\u00a0\u00a0\u00a0\u00a0\u00a0\u00a0\u00a0POLYETHYLENE GLYCOL 300", "wn": 650, "T": 50},
      {"spectrum": "F81180\u00a0\u00a0\u00a0\u00a0\u00a0\u00a0\u00a0POLYETHYLENE GLYCOL 300", "wn": 608, "T": 34.4}
    ]
  },
  "layer": [
    {
      "data": {"name": "spectra"},
      "mark": {"type": "line", "strokeWidth": 1, "clip": true},
      "encoding": {
        "x": {
          "field": "wn", "type": "quantitative",
          "scale": {"domain": [401, 4000], "reverse": true, "nice": false, "zero": false},
          "axis": {"values": [4000, 3500, 3000, 2500, 2000, 1500, 1000, 500, 401], "format": "d", "title": "cm-1", "titleFontSize": 11, "titlePadding": 0, "labelFontSize": 8, "labelPadding": 1, "tickSize": 3, "labelOverlap": false, "labelFlush": false}
        },
        "y": {
          "field": "T", "type": "quantitative",
          "scale": {"domain": [-2, 102], "nice": false, "zero": false},
          "axis": {
            "values": [-2, 0, 10, 20, 30, 40, 50, 60, 70, 80, 90, 100, 102], "format": "d", "title": "%T", "titleFontSize": 11, "titlePadding": 12, "labelFontSize": 7, "labelPadding": 1, "tickSize": 3, "labelOverlap": false, "labelFlush": false,
            "labelOffset": {"condition": [{"test": "datum.value === 102", "value": -2}, {"test": "datum.value === 100", "value": 2}, {"test": "datum.value === 0", "value": -3}], "value": 0}
          }
        },
        "color": {
          "field": "spectrum", "type": "nominal",
          "scale": {"range": ["#9c57a0", "#262626"]},
          "legend": {
            "orient": "none", "legendX": -39, "legendY": 245,
            "title": "Fluka library supplied by Perkin-Elmer",
            "titleColor": "#3b55a8", "titleFontSize": 7, "titleFontWeight": "normal", "titleFont": "Liberation Sans", "titlePadding": 2,
            "symbolType": "stroke", "symbolSize": 1849, "symbolStrokeWidth": 2, "clipHeight": 9,
            "labelFontSize": 7, "labelFont": "Liberation Sans", "labelColor": "#333", "labelOffset": 8, "labelLimit": 250,
            "padding": 0, "rowPadding": 0, "symbolOffset": 2
          }
        }
      }
    },
    {
      "data": {"values": [{"t": "Analyst"}]},
      "mark": {"type": "text", "align": "left", "baseline": "middle", "fontSize": 6.5, "color": "#333"},
      "encoding": {"x": {"datum": 4285, "axis": null}, "y": {"datum": 114.5, "axis": null}, "text": {"field": "t"}}
    },
    {
      "data": {"values": [{"t": "Date"}]},
      "mark": {"type": "text", "align": "left", "baseline": "middle", "fontSize": 6.5, "color": "#333"},
      "encoding": {"x": {"datum": 4285, "axis": null}, "y": {"datum": 110, "axis": null}, "text": {"field": "t"}}
    },
    {
      "data": {"values": [{"t": "martedì 12 gennaio 2021 09:27"}]},
      "mark": {"type": "text", "align": "left", "baseline": "middle", "fontSize": 6.5, "color": "#333"},
      "encoding": {"x": {"datum": 3212, "axis": null}, "y": {"datum": 110, "axis": null}, "text": {"field": "t"}}
    },
    {
      "data": {"values": [{"t": "PerkinElmer Spectrum IR Version 10.6.1"}]},
      "mark": {"type": "text", "align": "right", "baseline": "middle", "fontSize": 5.8, "color": "#333"},
      "encoding": {"x": {"datum": 87, "axis": null}, "y": {"datum": 120.8, "axis": null}, "text": {"field": "t"}}
    },
    {
      "data": {"values": [{"t": "martedì 12 gennaio 2021 09:27"}]},
      "mark": {"type": "text", "align": "right", "baseline": "middle", "fontSize": 5.8, "color": "#333"},
      "encoding": {"x": {"datum": 87, "axis": null}, "y": {"datum": 117.2, "axis": null}, "text": {"field": "t"}}
    }
  ]
}
